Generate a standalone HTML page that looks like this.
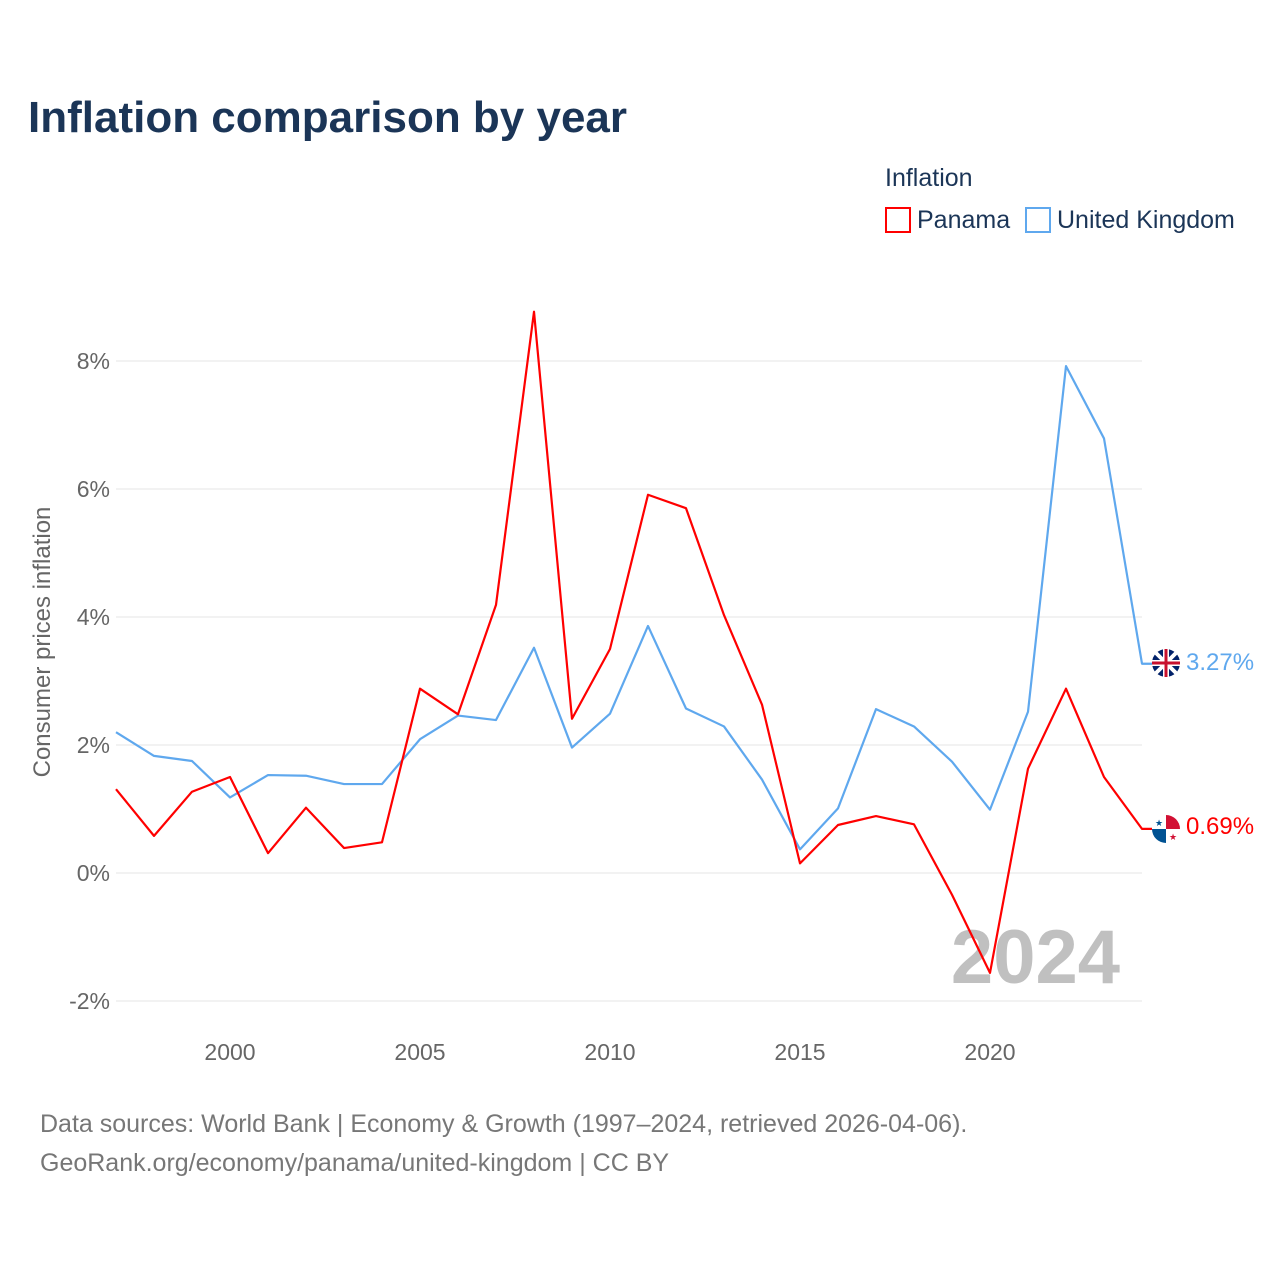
<!DOCTYPE html>
<html><head><meta charset="utf-8"><style>
body{margin:0;background:#fff;font-family:"Liberation Sans",sans-serif}
</style></head><body>
<svg width="1280" height="1280" xmlns="http://www.w3.org/2000/svg" id="chart">
<rect width="1280" height="1280" fill="#fff"/>
<text x="28" y="132" font-size="44" font-weight="bold" fill="#1b3557">Inflation comparison by year</text>
<text x="885" y="186" font-size="25" fill="#1b3557">Inflation</text>
<g><rect x="886" y="208" width="24" height="24" fill="none" stroke="#ff0000" stroke-width="2"/><text x="917" y="228" font-size="25" fill="#1b3557">Panama</text></g>
<g><rect x="1026" y="208" width="24" height="24" fill="none" stroke="#5fa8ee" stroke-width="2"/><text x="1057" y="228" font-size="25" fill="#1b3557">United Kingdom</text></g>
<text transform="translate(50,642) rotate(-90)" text-anchor="middle" font-size="24" fill="#666">Consumer prices inflation</text>
<g id="grid"></g><g id="xt"></g>
<text x="1120" y="983" text-anchor="end" font-size="76" font-weight="bold" fill="#c0c0c0">2024</text>
<g id="lines"></g>
<g><circle cx="1166" cy="663" r="14" fill="#012169"/><path d="M1156 653L1176 673M1176 653L1156 673" stroke="#fff" stroke-width="4"/><path d="M1166 649V677M1152 663H1180" stroke="#fff" stroke-width="6"/><path d="M1166 649V677M1152 663H1180" stroke="#c8102e" stroke-width="3"/></g>
<g><circle cx="1166" cy="829" r="14" fill="#fff"/><path d="M1166 815A14 14 0 0 1 1180 829H1166Z" fill="#d21034"/><path d="M1166 843A14 14 0 0 1 1152 829H1166Z" fill="#005293"/><text x="1159" y="826" font-size="9" fill="#005293" text-anchor="middle">★</text><text x="1173" y="840" font-size="9" fill="#d21034" text-anchor="middle">★</text></g>
<text x="1186" y="670" font-size="24" fill="#5fa8ee">3.27%</text>
<text x="1186" y="834" font-size="24" fill="#ff0000">0.69%</text>
<text x="40" y="1132" font-size="25" fill="#777">Data sources: World Bank | Economy &amp; Growth (1997–2024, retrieved 2026-04-06).</text>
<text x="40" y="1171" font-size="25" fill="#777">GeoRank.org/economy/panama/united-kingdom | CC BY</text>
</svg>
<script>
const years=[1997,1998,1999,2000,2001,2002,2003,2004,2005,2006,2007,2008,2009,2010,2011,2012,2013,2014,2015,2016,2017,2018,2019,2020,2021,2022,2023,2024];
const panama=[1.31,0.58,1.27,1.50,0.31,1.02,0.39,0.48,2.88,2.48,4.19,8.77,2.41,3.50,5.91,5.70,4.03,2.63,0.15,0.75,0.89,0.76,-0.34,-1.56,1.63,2.88,1.50,0.69];
const uk=[2.20,1.83,1.75,1.18,1.53,1.52,1.39,1.39,2.09,2.46,2.39,3.52,1.96,2.49,3.86,2.57,2.29,1.46,0.37,1.01,2.56,2.29,1.74,0.99,2.52,7.92,6.79,3.27];
const yTicks=[-2,0,2,4,6,8];
const xTicks=[2000,2005,2010,2015,2020];
const NS="http://www.w3.org/2000/svg";
const X=y=>116+(y-1997)*38, Y=v=>873-v*64;
const grid=document.getElementById('grid'),xt=document.getElementById('xt'),lines=document.getElementById('lines');
function mk(t,a,p){const e=document.createElementNS(NS,t);for(const k in a)e.setAttribute(k,a[k]);p.appendChild(e);return e;}
yTicks.forEach(v=>{
 const l=mk('line',{x1:116,x2:1142,y1:Y(v),y2:Y(v),stroke:'#e6e6e6','stroke-width':1},grid);
 
 
 const t=mk('text',{x:110,y:Y(v)+8,'text-anchor':'end','font-size':23,fill:'#666'},grid);
 t.textContent=v+'%';
 
 
});
xTicks.forEach(v=>{
 const t=mk('text',{x:X(v),y:1060,'text-anchor':'middle','font-size':23,fill:'#666'},xt);
 t.textContent=v;
 
 
});
function line(vals,col,name){
 let d=vals.map((v,i)=>(i?'L':'M')+X(years[i])+' '+Y(v)).join(' ');
 d+=' H'+(X(years[years.length-1])+10);
 const p=mk('path',{d:d,fill:'none',stroke:col,'stroke-width':2.2,'stroke-linejoin':'round'},lines);
 
 
}
line(uk,'#5fa8ee','uk-line');
line(panama,'#ff0000','panama-line');
</script>
</body></html>
